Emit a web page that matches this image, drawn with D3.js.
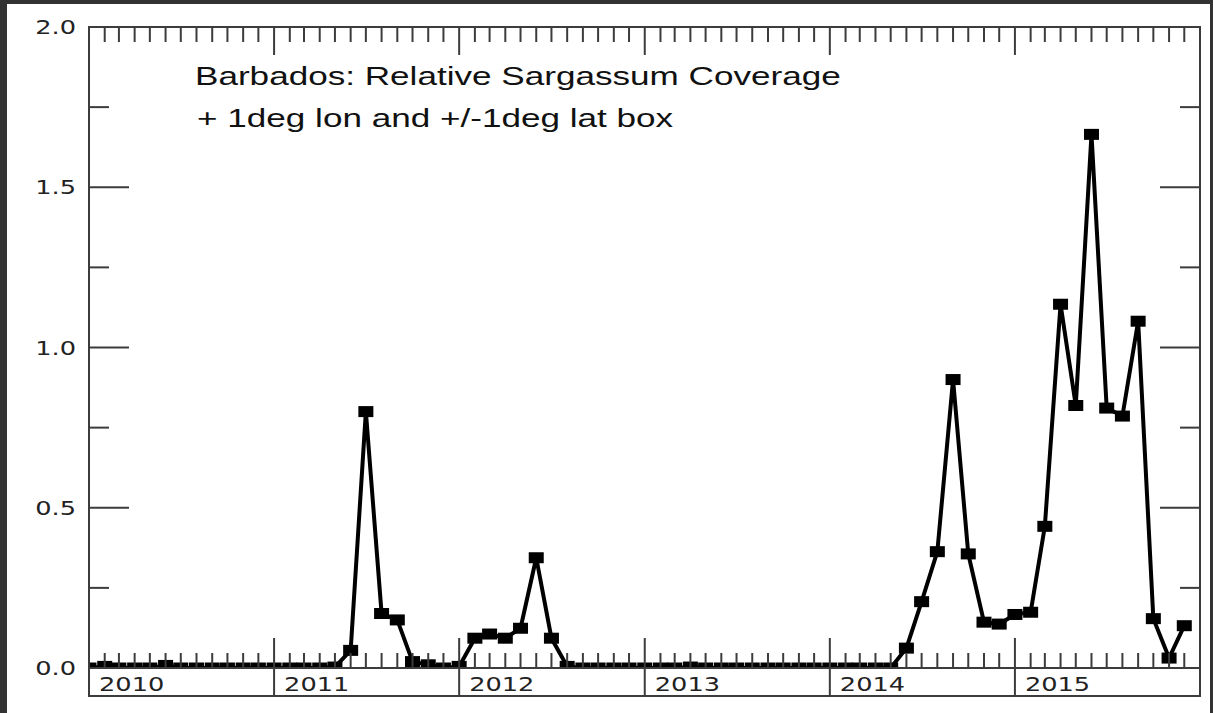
<!DOCTYPE html>
<html><head><meta charset="utf-8">
<script src="https://cdn.jsdelivr.net/npm/d3@7"></script>
<style>html,body{margin:0;padding:0;background:#333;overflow:hidden}</style>
</head><body>
<svg id="c" width="1213" height="713"></svg>
<script>
const titleLines = ["Barbados: Relative Sargassum Coverage", "+ 1deg lon and +/-1deg lat box"];
const yearLabels = ["2010","2011","2012","2013","2014","2015"];
const yTickLabels = ["0.0","0.5","1.0","1.5","2.0"];
const v2010 = [0, 0.005, 0, 0, 0, 0.008, 0, 0, 0, 0, 0, 0];
const v2011 = [0, 0, 0, 0, 0.003, 0.055, 0.80, 0.17, 0.15, 0.02, 0.01, 0];
const v2012 = [0.005, 0.093, 0.106, 0.093, 0.124, 0.344, 0.093, 0.005, 0, 0, 0, 0];
const v2013 = [0, 0, 0, 0.003, 0, 0, 0, 0, 0, 0, 0, 0];
const v2014 = [0, 0, 0, 0, 0, 0.062, 0.207, 0.363, 0.90, 0.356, 0.143, 0.137];
const v2015 = [0.167, 0.174, 0.442, 1.135, 0.819, 1.665, 0.811, 0.786, 1.082, 0.154, 0.031, 0.132];
const yearValues = [v2010, v2011, v2012, v2013, v2014, v2015];

const data = [];
yearValues.forEach((arr, yi) => arr.forEach((v, m) => data.push({date: new Date(2010 + yi, m, 1), value: v})));

const svg = d3.select("#c");
const L = 89, R = 1200, T = 27, B = 668, BOX = 696;
const SX = 1.35;
const axisCol = "#3c3c3c", textCol = "#222";

svg.append("rect").attr("x", 0).attr("y", 0).attr("width", 1213).attr("height", 713).attr("fill", "#333");
svg.append("rect").attr("x", 7).attr("y", 4).attr("width", 1203).attr("height", 709).attr("fill", "#fff");

svg.append("clipPath").attr("id", "plot").append("rect")
  .attr("x", L).attr("y", T).attr("width", R - L).attr("height", B - T + 10);

const x = d3.scaleTime().domain([new Date(2010, 0, 1), new Date(2016, 0, 1)]).range([L, R]);
const y = d3.scaleLinear().domain([0, 2]).range([B, T]);

const months = x.ticks(d3.timeMonth.every(1));
const years = x.ticks(d3.timeYear.every(1));
const isYear = d => d.getMonth() === 0;

const plot = svg.append("g").attr("clip-path", "url(#plot)");
const line = d3.line().x(d => x(d.date)).y(d => y(d.value));
plot.append("path").datum(data).attr("d", line).attr("fill", "none")
  .attr("stroke", "#000").attr("stroke-width", 4).attr("stroke-linejoin", "miter");
plot.append("g").selectAll("rect").data(data).join("rect")
  .attr("x", d => x(d.date) - 7.5).attr("y", d => y(d.value) - 5.5)
  .attr("width", 15).attr("height", 11).attr("fill", "#000");

svg.append("rect").attr("x", L).attr("y", B).attr("width", R - L).attr("height", BOX - B)
  .attr("fill", "#fff").attr("stroke", axisCol).attr("stroke-width", 2);

svg.append("rect").attr("x", L).attr("y", T).attr("width", R - L).attr("height", B - T)
  .attr("fill", "none").attr("stroke", axisCol).attr("stroke-width", 2);

const g = svg.append("g").attr("stroke", axisCol).attr("stroke-width", 2);
months.filter(d => !isYear(d)).forEach(d => {
  g.append("line").attr("x1", x(d)).attr("x2", x(d)).attr("y1", B).attr("y2", B - 15);
  g.append("line").attr("x1", x(d)).attr("x2", x(d)).attr("y1", T).attr("y2", T + 15);
});
years.forEach(d => {
  g.append("line").attr("x1", x(d)).attr("x2", x(d)).attr("y1", B - 30).attr("y2", BOX);
  g.append("line").attr("x1", x(d)).attr("x2", x(d)).attr("y1", T).attr("y2", T + 28);
});
const yt = d3.range(0, 2.0001, 0.25);
yt.forEach(v => {
  const major = Math.abs(v * 2 - Math.round(v * 2)) < 1e-6;
  const len = major ? 40 : 20;
  g.append("line").attr("x1", L).attr("x2", L + len).attr("y1", y(v)).attr("y2", y(v));
  g.append("line").attr("x1", R).attr("x2", R - len).attr("y1", y(v)).attr("y2", y(v));
});

yTickLabels.forEach(t => {
  svg.append("text").attr("transform", `translate(76,${y(+t) + 7}) scale(${SX},1)`)
    .attr("text-anchor", "end").attr("font-family", "DejaVu Sans").attr("font-size", 19)
    .attr("fill", textCol).text(t);
});
years.forEach((d, i) => {
  svg.append("text").attr("transform", `translate(${x(d) + 10},691) scale(${SX},1)`)
    .attr("font-family", "DejaVu Sans").attr("font-size", 19)
    .attr("fill", textCol).text(yearLabels[i]);
});
svg.append("text").attr("transform", `translate(195,85) scale(${SX * 1.02},1)`)
  .attr("font-family", "Liberation Sans").attr("font-size", 25.5).attr("fill", "#111").text(titleLines[0]);
svg.append("text").attr("transform", `translate(197,127) scale(${SX * 1.02},1)`)
  .attr("font-family", "Liberation Sans").attr("font-size", 25.5).attr("fill", "#111").text(titleLines[1]);
</script>
</body></html>
